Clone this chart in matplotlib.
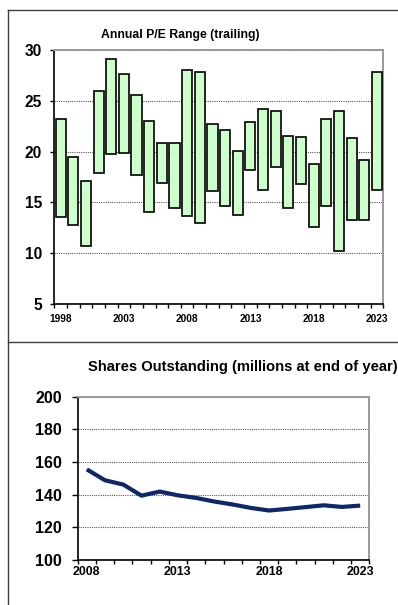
import numpy as np
import matplotlib.pyplot as plt
from matplotlib.lines import Line2D

plt.rcParams['font.family'] = ['Liberation Sans', 'DejaVu Sans']
plt.rcParams['font.weight'] = 'bold'

# yearly trailing P/E range
pe_years = list(range(1998, 2024))
pe_high = [23.2, 19.5, 17.1, 26.0, 29.1, 27.6, 25.6, 23.0, 20.8, 20.8, 28.0, 27.8, 22.7,
           22.1, 20.1, 22.9, 24.2, 24.0, 21.5, 21.4, 18.8, 23.2, 24.0, 21.3, 19.2, 27.8]
pe_low = [13.6, 12.8, 10.7, 17.9, 19.8, 19.9, 17.7, 14.1, 16.9, 14.4, 13.7, 13.0, 16.1,
          14.6, 13.8, 18.2, 16.2, 18.5, 14.4, 16.8, 12.6, 14.6, 10.2, 13.3, 13.3, 16.2]

# shares outstanding, millions at year end
share_years = list(range(2008, 2024))
shares = [155.5, 148.8, 146.2, 139.4, 141.9, 139.6, 138.0, 135.8, 134.0, 131.9,
          130.3, 131.3, 132.4, 133.5, 132.5, 133.3]

W, H = 398, 605


def box(left, top, right, bottom):
    return [left / W, 1 - bottom / H, (right - left) / W, (bottom - top) / H]


def frame(ax):
    ax.spines['left'].set_color('black')
    ax.spines['bottom'].set_color('black')
    ax.spines['left'].set_linewidth(1.2)
    ax.spines['bottom'].set_linewidth(1.2)
    for s in ('top', 'right'):
        ax.spines[s].set_color('#9a9a9a')
        ax.spines[s].set_linewidth(1.4)
    ax.set_axisbelow(True)
    ax.yaxis.grid(True, ls=(0, (1, 1)), color='#5a5a5a', lw=0.8)


fig = plt.figure(figsize=(W / 100, H / 100), dpi=100)

# --- P/E range bars ---
ax1 = fig.add_axes(box(54.3, 50, 383.3, 304))
n = len(pe_years)
xs = np.arange(n) + 0.5
lo = np.array(pe_low)
hi = np.array(pe_high)
ax1.bar(xs, hi - lo, bottom=lo, width=0.8, color='#ccffcc', edgecolor='black',
        linewidth=1.2, zorder=3)
ax1.set_xlim(0, n)
ax1.set_ylim(5, 30)
ax1.set_yticks(range(5, 31, 5))
ax1.set_xticks(xs[::5])
ax1.set_xticklabels(pe_years[::5], fontsize=7.3, fontweight='bold')
ax1.set_xticks(np.arange(n + 1), minor=True)
ax1.tick_params(axis='x', which='major', length=0, pad=7)
ax1.tick_params(axis='x', which='minor', length=3, width=1, direction='out')
ax1.tick_params(axis='y', length=3, width=1, pad=6, labelsize=11.2)
frame(ax1)
fig.text(180 / W, 1 - 35 / H, 'Annual P/E Range (trailing)', ha='center', va='center',
         fontsize=8.8, fontweight='bold')

# --- shares outstanding line ---
ax2 = fig.add_axes(box(77.7, 396.7, 369.3, 560))
m = len(share_years)
xs2 = np.arange(m) + 0.5
ax2.plot(xs2, shares, color='#0d2868', lw=3, solid_capstyle='butt', zorder=3)
ax2.set_xlim(0, m)
ax2.set_ylim(100, 200)
ax2.set_yticks(range(100, 201, 20))
ax2.set_xticks(xs2[::5])
ax2.set_xticklabels(share_years[::5], fontsize=8.9, fontweight='bold')
ax2.set_xticks(np.arange(m + 1), minor=True)
ax2.tick_params(axis='x', which='major', length=0, pad=4.3)
ax2.tick_params(axis='x', which='minor', length=3, width=1, direction='out')
ax2.tick_params(axis='y', length=4.3, width=1, pad=7, labelsize=11.5)
frame(ax2)
fig.text(242.5 / W, 1 - 367 / H, 'Shares Outstanding (millions at end of year)',
         ha='center', va='center', fontsize=10.6, fontweight='bold')

# panel borders
for xd, yd in [([8, W], [10, 10]), ([8, 8], [10, H]), ([8, W], [342, 342])]:
    fig.add_artist(Line2D([x / W for x in xd], [1 - y / H for y in yd],
                          transform=fig.transFigure, color='#404040', lw=1))

fig.savefig('out.png', dpi=100)
